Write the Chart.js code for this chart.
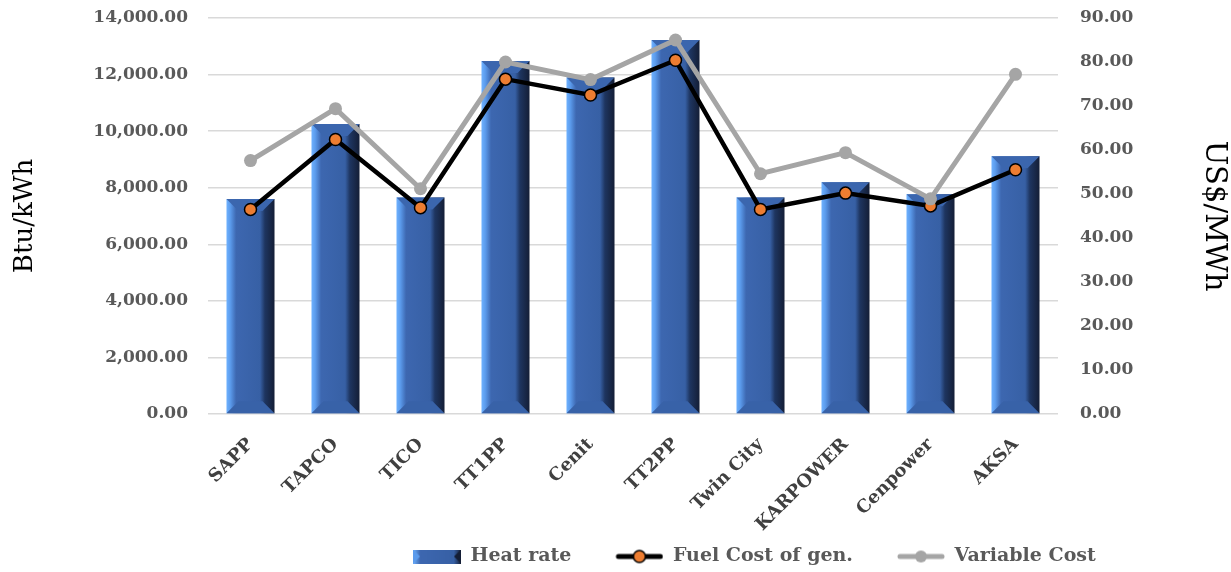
<!DOCTYPE html>
<html>
<head>
<meta charset="utf-8">
<script src="https://cdn.jsdelivr.net/npm/chart.js@4.4.1/dist/chart.umd.min.js"></script>
<style>
  html, body { margin: 0; padding: 0; background: #fff; }
  #wrap { width: 1231px; height: 572px; }
</style>
</head>
<body>
<div id="wrap"><canvas id="chart"></canvas></div>
<script>
const plants = ["SAPP", "TAPCO", "TICO", "TT1PP", "Cenit", "TT2PP", "Twin City", "KARPOWER", "Cenpower", "AKSA"];
const heatRate = [7600, 10250, 7650, 12480, 11900, 13220, 7650, 8190, 7770, 9110];
const fuelCost = [46.5, 62.4, 46.9, 76.1, 72.5, 80.4, 46.5, 50.2, 47.3, 55.5];
const variableCost = [57.6, 69.4, 51.2, 80.0, 76.0, 85.0, 54.6, 59.4, 48.9, 77.2];

const SERIF = "'DejaVu Serif', 'Liberation Serif', serif";
const TICK_GREY = "#595959";

function fmt(v) {
  return Number(v).toLocaleString("en-US", { minimumFractionDigits: 2, maximumFractionDigits: 2 });
}

// horizontal gradient across one bar: light left, mid centre, dark right
function barFill(ctx) {
  const chart = ctx.chart;
  const x = chart.scales.x;
  if (!chart.chartArea || !x || ctx.dataIndex === undefined) return "#3a62a8";
  const cx = x.getPixelForValue(ctx.dataIndex);
  const w = (x.width / plants.length) * 0.565;
  const g = chart.ctx.createLinearGradient(cx - w / 2, 0, cx + w / 2, 0);
  g.addColorStop(0, "#6fb2ff");
  g.addColorStop(0.08, "#5b9bec");
  g.addColorStop(0.2, "#3d67b0");
  g.addColorStop(0.7, "#3760a5");
  g.addColorStop(0.8, "#1e3560");
  g.addColorStop(1, "#141e36");
  return g;
}

// top and bottom bevel faces on each bar
const bevel = {
  id: "bevel",
  afterDatasetDraw(chart, args) {
    if (args.index !== 0) return;
    const c = chart.ctx;
    args.meta.data.forEach(el => {
      const p = el.getProps(["x", "y", "base", "width"], true);
      const L = p.x - p.width / 2, R = p.x + p.width / 2;
      const b = p.width * 0.25;
      c.save();
      c.fillStyle = "#3b66ae";
      c.beginPath();
      c.moveTo(L, p.y); c.lineTo(R, p.y); c.lineTo(R - b, p.y + b); c.lineTo(L + b, p.y + b);
      c.closePath(); c.fill();
      c.fillStyle = "#3862a8";
      c.beginPath();
      c.moveTo(L, p.base); c.lineTo(R, p.base); c.lineTo(R - b, p.base - b); c.lineTo(L + b, p.base - b);
      c.closePath(); c.fill();
      c.restore();
    });
  }
};

// legend swatches; blank margin on the left widens the gap between items
const GAP = 34;
function swatchBar() {
  const cv = document.createElement("canvas");
  cv.width = GAP + 48; cv.height = 14;
  const c = cv.getContext("2d");
  c.translate(GAP, 0);
  const g = c.createLinearGradient(0, 0, 48, 0);
  g.addColorStop(0, "#6fb2ff"); g.addColorStop(0.15, "#3d67b0");
  g.addColorStop(0.85, "#3760a5"); g.addColorStop(1, "#141e36");
  c.fillStyle = g; c.fillRect(0, 0, 48, 14);
  c.beginPath(); c.moveTo(0, 0); c.lineTo(7, 7); c.lineTo(0, 14); c.closePath(); c.fillStyle = "#5b9bec"; c.fill();
  c.beginPath(); c.moveTo(48, 0); c.lineTo(41, 7); c.lineTo(48, 14); c.closePath(); c.fillStyle = "#141e36"; c.fill();
  return cv;
}
function swatchLine(line, dot, border) {
  const cv = document.createElement("canvas");
  cv.width = GAP + 48; cv.height = 16;
  const c = cv.getContext("2d");
  c.translate(GAP, 0);
  c.strokeStyle = line; c.lineWidth = 5; c.lineCap = "round";
  c.beginPath(); c.moveTo(3, 8); c.lineTo(45, 8); c.stroke();
  c.beginPath(); c.arc(24, 8, 6, 0, Math.PI * 2);
  c.fillStyle = dot; c.fill();
  if (border) { c.lineWidth = 1.5; c.strokeStyle = border; c.stroke(); }
  return cv;
}

// place the legend row where the source has it
const legendPlace = {
  id: "legendPlace",
  afterLayout(chart) {
    const lg = chart.legend;
    const dx = (413 - GAP - 10) - lg.left;
    lg.left += dx; lg.right += dx;
    const dy = (547 - 10) - lg.top;
    lg.top += dy; lg.bottom += dy;
  }
};

const config = {
  type: "bar",
  data: {
    labels: plants,
    datasets: [
      {
        type: "bar",
        label: "Heat rate",
        data: heatRate,
        yAxisID: "y",
        backgroundColor: barFill,
        borderWidth: 0,
        barPercentage: 0.565,
        categoryPercentage: 1,
        order: 3,
      },
      {
        type: "line",
        label: "Fuel Cost of gen.",
        data: fuelCost,
        yAxisID: "y1",
        borderColor: "#000000",
        borderWidth: 4.5,
        pointRadius: 6,
        pointBackgroundColor: "#ed7d31",
        pointBorderColor: "#000000",
        pointBorderWidth: 1.5,
        tension: 0,
        order: 2,
      },
      {
        type: "line",
        label: "Variable Cost",
        data: variableCost,
        yAxisID: "y1",
        borderColor: "#a5a5a5",
        borderWidth: 5,
        pointRadius: 6.5,
        pointBackgroundColor: "#a5a5a5",
        pointBorderColor: "#a5a5a5",
        pointBorderWidth: 0,
        tension: 0,
        order: 1,
      },
    ],
  },
  options: {
    responsive: true,
    maintainAspectRatio: false,
    animation: false,
    layout: { padding: { top: 18, left: 0, right: 0, bottom: 0 } },
    plugins: {
      legend: {
        position: "bottom",
        align: "start",
        labels: {
          usePointStyle: true,
          pointStyleWidth: GAP + 48,
          boxHeight: 16,
          padding: 10,
          color: TICK_GREY,
          font: { family: SERIF, size: 19, weight: "bold" },
          generateLabels() {
            return [
              { text: "Heat rate", pointStyle: swatchBar(), fillStyle: "#3760a5", strokeStyle: "#3760a5", lineWidth: 0, fontColor: TICK_GREY, datasetIndex: 0 },
              { text: "Fuel Cost of gen.", pointStyle: swatchLine("#000", "#ed7d31", "#000"), fillStyle: "#000", strokeStyle: "#000", lineWidth: 0, fontColor: TICK_GREY, datasetIndex: 1 },
              { text: "Variable Cost", pointStyle: swatchLine("#a5a5a5", "#a5a5a5"), fillStyle: "#a5a5a5", strokeStyle: "#a5a5a5", lineWidth: 0, fontColor: TICK_GREY, datasetIndex: 2 },
            ];
          },
        },
      },
      tooltip: { enabled: false },
    },
    scales: {
      x: {
        grid: { display: false },
        border: { display: false },
        ticks: {
          color: "#404040",
          font: { family: SERIF, size: 18, weight: "bold" },
          minRotation: 45,
          maxRotation: 45,
          padding: 12,
        },
        afterFit(scale) { scale.height = 119; },
      },
      y: {
        position: "left",
        min: 0,
        max: 14000,
        ticks: {
          stepSize: 2000,
          color: TICK_GREY,
          font: { family: SERIF, size: 17, weight: "bold" },
          padding: 2,
          callback: v => fmt(v),
        },
        grid: { color: "#d9d9d9", lineWidth: 1.5, drawTicks: true, tickLength: 18, tickColor: "rgba(0,0,0,0)" },
        border: { display: false },
        title: {
          display: true,
          text: "Btu/kWh",
          color: "#000",
          font: { family: SERIF, size: 26 },
          padding: { top: 10, bottom: 10 },
        },
        afterFit(scale) { scale.width = 208; },
      },
      y1: {
        position: "right",
        min: 0,
        max: 90,
        ticks: {
          stepSize: 10,
          color: TICK_GREY,
          font: { family: SERIF, size: 17, weight: "bold" },
          padding: 2,
          callback: v => fmt(v),
        },
        grid: { drawOnChartArea: false, drawTicks: true, tickLength: 20, tickColor: "rgba(0,0,0,0)" },
        border: { display: false },
        title: {
          display: true,
          text: "US$/MWh",
          color: "#000",
          font: { family: SERIF, size: 29 },
          padding: { top: 0, bottom: 4 },
        },
        afterFit(scale) { scale.width = 173; },
      },
    },
  },
  plugins: [bevel, legendPlace],
};

new Chart(document.getElementById("chart"), config);
</script>
</body>
</html>
